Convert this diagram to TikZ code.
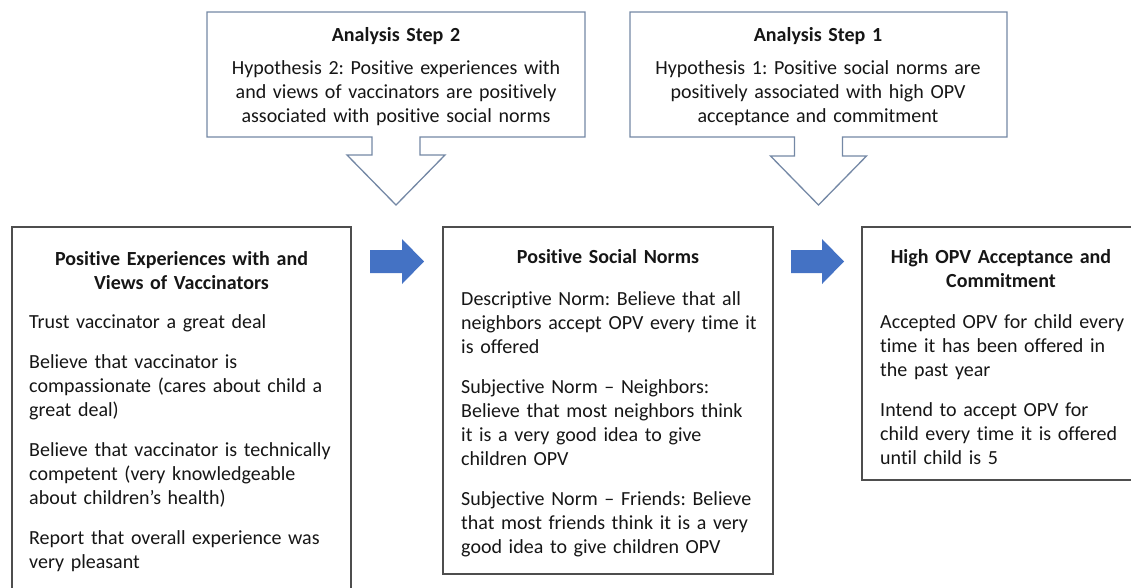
\documentclass[tikz,border=0pt]{standalone}
\usepackage{fontspec}
\setmainfont{Carlito}[Ligatures=NoCommon]
\usetikzlibrary{calc}
\definecolor{callline}{RGB}{116,136,165}
\definecolor{boxline}{RGB}{78,78,78}
\definecolor{bluearrow}{RGB}{68,114,196}
\definecolor{txt}{RGB}{22,22,22}
\frenchspacing
\tikzset{
  textbox/.style={draw=boxline, line width=1.3pt, rectangle, inner sep=0pt, outer sep=0pt, fill=white},
  plainbox/.style={draw=none, rectangle, inner sep=0pt, outer sep=0pt},
  callout/.style={draw=callline, line width=1.3pt, fill=white, line join=miter},
  blockarrow/.style={fill=bluearrow, draw=none},
  titletext/.style={font=\fontsize{20}{24}\selectfont\bfseries, text=txt, align=center, inner sep=0pt, anchor=base},
  bodytext/.style={font=\fontsize{20}{24}\selectfont, text=txt, align=left, inner sep=0pt, anchor=base west},
  centertext/.style={font=\fontsize{20}{24}\selectfont, text=txt, align=center, inner sep=0pt, anchor=base}
}
\begin{document}
\begin{tikzpicture}[x=1pt,y=-1pt]
\useasboundingbox (0,0) rectangle (1131,587);
\clip (0,0) rectangle (1131,587);

% top callouts
\node[plainbox, minimum width=378pt, minimum height=125pt, anchor=north west] (step2) at (207,12) {};
\node[plainbox, minimum width=377pt, minimum height=125pt, anchor=north west] (step1) at (630,12) {};

\draw[callout] (step2.north west) -- (step2.north east) -- (step2.south east)
  -- ($(step2.south)+(24,0)$) -- ++(0,18) -- ++(25,0) -- ($(step2.south)+(0,68)$)
  -- ($(step2.south)+(-49,18)$) -- ++(25,0) -- ($(step2.south)+(-24,0)$)
  -- (step2.south west) -- cycle;
\draw[callout] (step1.north west) -- (step1.north east) -- (step1.south east)
  -- ($(step1.south)+(24,0)$) -- ++(0,19) -- ++(24,0) -- ($(step1.south)+(0,68)$)
  -- ($(step1.south)+(-48,19)$) -- ++(24,0) -- ($(step1.south)+(-24,0)$)
  -- (step1.south west) -- cycle;

\node[titletext, text width=360pt] (step2T) at (396,41) {Analysis Step 2};
\node[centertext, text width=370pt] (step2B) at (396,74) {Hypothesis 2: Positive experiences with\\and views of vaccinators are positively\\associated with positive social norms};
\node[titletext, text width=360pt] (step1T) at (818,41) {Analysis Step 1};
\node[centertext, text width=370pt] (step1B) at (818,74) {Hypothesis 1: Positive social norms are\\positively associated with high OPV\\acceptance and commitment};

% bottom boxes
\node[textbox, minimum width=339pt, minimum height=380pt, anchor=north west] (exp) at (12,227) {};
\node[textbox, minimum width=330pt, minimum height=347pt, anchor=north west] (norms) at (443,227) {};
\node[textbox, minimum width=290pt, minimum height=253pt, anchor=north west] (acc) at (862,227) {};

\node[titletext, text width=320pt] (expT) at (181.5,265) {Positive Experiences with and\\Views of Vaccinators};
\node[bodytext, text width=318pt] (expB) at (29,328) {Trust vaccinator a great deal\\[16pt]
Believe that vaccinator is\\compassionate (cares about child a\\great deal)\\[16pt]
Believe that vaccinator is technically\\competent (very knowledgeable\\about children’s health)\\[16pt]
Report that overall experience was\\very pleasant};

\node[titletext, text width=310pt] (normsT) at (608,263) {Positive Social Norms};
\node[bodytext, text width=308pt] (normsB) at (461,305) {Descriptive Norm: Believe that all\\neighbors accept OPV every time it\\is offered\\[16pt]
Subjective Norm – Neighbors:\\Believe that most neighbors think\\it is a very good idea to give\\children OPV\\[16pt]
Subjective Norm – Friends: Believe\\that most friends think it is a very\\good idea to give children OPV};

\node[titletext, text width=260pt] (accT) at (1001,263) {High OPV Acceptance and\\Commitment};
\node[bodytext, text width=250pt] (accB) at (880,328) {Accepted OPV for child every\\time it has been offered in\\the past year\\[16pt]
Intend to accept OPV for\\child every time it is offered\\until child is 5};

% block arrows
\draw[blockarrow] ($(exp.north east)+(19,23)$) -- ++(32,0) -- ++(0,-11) -- ++(22,22.5) -- ++(-22,22.5) -- ++(0,-11) -- ++(-32,0) -- cycle;
\draw[blockarrow] ($(norms.north east)+(18,23)$) -- ++(31,0) -- ++(0,-11) -- ++(22,22.5) -- ++(-22,22.5) -- ++(0,-11) -- ++(-31,0) -- cycle;
\end{tikzpicture}
\end{document}
